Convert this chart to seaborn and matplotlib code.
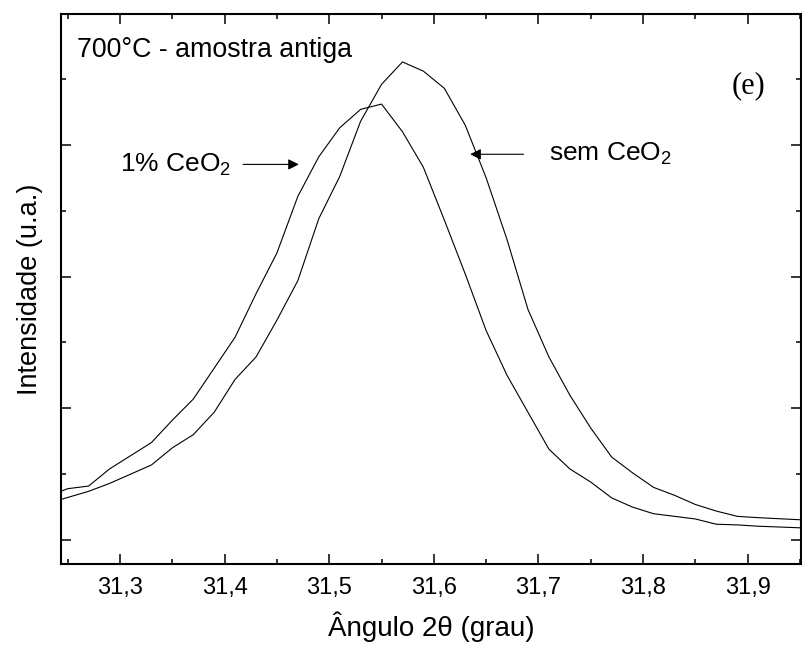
import matplotlib
matplotlib.use("Agg")
import matplotlib.pyplot as plt
from matplotlib.ticker import MultipleLocator, FuncFormatter, NullFormatter
import pandas as pd
import seaborn as sns

# ---- data (intensity in arbitrary units) ----
angle_1pct = [31.24, 31.25, 31.27, 31.29, 31.33, 31.35, 31.37, 31.41, 31.43, 31.45,
              31.47, 31.49, 31.51, 31.53, 31.55, 31.57, 31.59, 31.61, 31.63, 31.65,
              31.67, 31.71, 31.73, 31.75, 31.77, 31.79, 31.81, 31.83, 31.85, 31.87,
              31.89, 31.91, 31.96]
intens_1pct = [0.36, 0.39, 0.41, 0.54, 0.74, 0.91, 1.07, 1.54, 1.87, 2.18,
               2.61, 2.91, 3.13, 3.27, 3.31, 3.10, 2.83, 2.43, 2.02, 1.59,
               1.25, 0.69, 0.54, 0.44, 0.32, 0.25, 0.20, 0.18, 0.16, 0.12,
               0.115, 0.105, 0.09]

angle_sem = [31.24, 31.27, 31.29, 31.33, 31.35, 31.37, 31.39, 31.41, 31.43, 31.45,
             31.47, 31.49, 31.51, 31.53, 31.55, 31.57, 31.59, 31.61, 31.63, 31.65,
             31.67, 31.69, 31.71, 31.73, 31.75, 31.77, 31.79, 31.81, 31.83, 31.85,
             31.87, 31.89, 31.91, 31.96]
intens_sem = [0.30, 0.37, 0.43, 0.57, 0.70, 0.80, 0.97, 1.22, 1.39, 1.67,
              1.97, 2.44, 2.76, 3.18, 3.46, 3.63, 3.56, 3.43, 3.15, 2.75,
              2.28, 1.75, 1.39, 1.10, 0.85, 0.63, 0.51, 0.40, 0.34, 0.27,
              0.22, 0.18, 0.17, 0.15]

df = pd.concat([
    pd.DataFrame({"angle": angle_1pct, "intens": intens_1pct, "amostra": "1% CeO2"}),
    pd.DataFrame({"angle": angle_sem, "intens": intens_sem, "amostra": "sem CeO2"}),
])

sns.set_theme(style="ticks")
plt.rcParams["font.family"] = ["Liberation Sans", "DejaVu Sans"]
plt.rcParams["mathtext.fontset"] = "custom"
plt.rcParams["mathtext.rm"] = "Liberation Sans"
plt.rcParams["mathtext.default"] = "regular"
for key in ["text.color", "axes.labelcolor", "xtick.color", "ytick.color", "axes.edgecolor"]:
    plt.rcParams[key] = "black"

fig = plt.figure(figsize=(8.02, 6.48), dpi=100)
ax = fig.add_axes([0.0761, 0.1296, 0.9223, 0.8488])

sns.lineplot(data=df, x="angle", y="intens", units="amostra", estimator=None,
             color="black", lw=0.8, sort=False, ax=ax, legend=False)

ax.set_xlim(31.2436, 31.9507)
ax.set_ylim(-0.182, 3.994)

# ticks: inward on all four sides, comma decimals, no y labels
ax.xaxis.set_major_locator(MultipleLocator(0.1))
ax.xaxis.set_minor_locator(MultipleLocator(0.05))
ax.yaxis.set_major_locator(MultipleLocator(1))
ax.yaxis.set_minor_locator(MultipleLocator(0.5))
ax.xaxis.set_major_formatter(FuncFormatter(lambda v, p: f"{v:.1f}".replace(".", ",")))
ax.yaxis.set_major_formatter(NullFormatter())
ax.tick_params(which="both", direction="in", top=True, right=True, width=1.1, color="black")
ax.tick_params(which="major", length=7.2)
ax.tick_params(which="minor", length=3.6)
ax.tick_params(axis="x", labelsize=17, pad=9)
for s in ax.spines.values():
    s.set_linewidth(1.5)

ax.set_xlabel("Ângulo 2θ (grau)", fontsize=20)
ax.set_ylabel("Intensidade (u.a.)", fontsize=19.5)
ax.xaxis.set_label_coords(0.5, -0.087)
ax.yaxis.set_label_coords(-0.024, 0.5)

ax.text(0.0216, 0.9345, "700°C - amostra antiga", transform=ax.transAxes,
        fontsize=19.3, ha="left", va="center")
ax.text(0.930, 0.869, "(e)", transform=ax.transAxes, fontsize=22,
        family="Liberation Serif", ha="center", va="center")

arrow = dict(arrowstyle="-|>", color="black", lw=0.8, mutation_scale=16, shrinkA=0, shrinkB=0)
ax.annotate("", xy=(31.4710, 2.852), xytext=(31.4177, 2.852), arrowprops=arrow)
ax.text(31.2996, 2.852, "1% CeO$_2$", fontsize=19, ha="left", va="center")
ax.annotate("", xy=(31.6347, 2.929), xytext=(31.6857, 2.929), arrowprops=arrow)
ax.text(31.7103, 2.929, "sem CeO$_2$", fontsize=19, ha="left", va="center")

fig.savefig("out.png", dpi=100)
